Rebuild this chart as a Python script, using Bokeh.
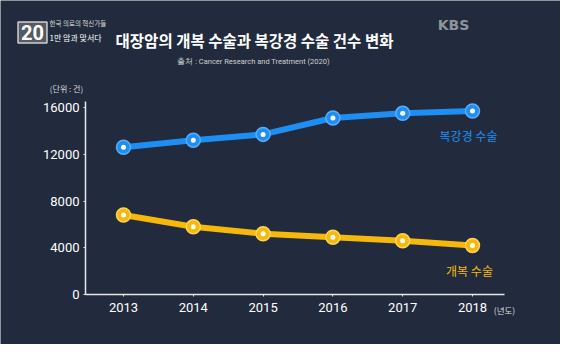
from bokeh.plotting import figure
from bokeh.models import Label, Range1d, FixedTicker
from bokeh.embed import file_html
from bokeh.resources import INLINE

years = [2013, 2014, 2015, 2016, 2017, 2018]
laparoscopic = [12600, 13200, 13700, 15100, 15500, 15700]
open_surgery = [6800, 5800, 5200, 4900, 4600, 4200]
y_ticks = [0, 4000, 8000, 12000, 16000]

BG = "#212b3d"
BLUE = "#1f8ef3"
YELLOW = "#f6b80a"
FONT = "Roboto"
KFONT = "Noto Sans CJK KR"

W, H = 560, 344
# frame covers the whole canvas; axes are pinned inside it with fixed_location
X0, X1 = 2011.2378, 2019.2607
Y0, Y1 = -4278, 25155
AXIS_X = 2012.4556

p = figure(width=W, height=H, output_backend="svg", toolbar_location=None,
           x_range=Range1d(X0, X1), y_range=Range1d(Y0, Y1),
           min_border=0, min_border_left=0, min_border_right=0,
           min_border_top=0, min_border_bottom=0)
p.background_fill_color = BG
p.border_fill_color = BG
p.outline_line_color = None
p.grid.visible = False

for ax in (p.xaxis[0], p.yaxis[0]):
    ax.axis_line_color = "#e8e8e8"
    ax.axis_line_width = 1.5
    ax.major_tick_line_color = "#e8e8e8"
    ax.major_tick_in = 0
    ax.major_tick_out = 2
    ax.minor_tick_line_color = None
    ax.major_label_text_color = "white"
    ax.major_label_text_font = FONT
    ax.major_label_text_font_size = "13px"

p.xaxis.ticker = FixedTicker(ticks=years)
p.yaxis.ticker = FixedTicker(ticks=y_ticks)
p.xaxis.fixed_location = 0
p.yaxis.fixed_location = AXIS_X
p.xaxis.bounds = (AXIS_X, 2018.46)
p.yaxis.bounds = (0, 16500)
p.xaxis.major_label_standoff = 6
p.yaxis.major_label_standoff = 4

p.line(years, laparoscopic, line_color=BLUE, line_width=6)
p.scatter(years, laparoscopic, size=14, fill_color=BLUE, line_color="#5aaef8", line_width=1.5)
p.scatter(years, laparoscopic, size=5, fill_color="white", line_color=None)

p.line(years, open_surgery, line_color=YELLOW, line_width=6)
p.scatter(years, open_surgery, size=14, fill_color=YELLOW, line_color="#ffd45a", line_width=1.5)
p.scatter(years, open_surgery, size=5, fill_color="white", line_color=None)

def lab(text, x, y, size, color, font=KFONT, style="normal", align="center", base="middle", **kw):
    # x, y in page pixels (8px page margin); screen units measured from canvas bottom-left
    p.add_layout(Label(x=x - 8, y=H - (y - 8), x_units="screen", y_units="screen", text=text,
                       text_color=color, text_font=font, text_font_size=size,
                       text_font_style=style, text_align=align, text_baseline=base, **kw))

lab("대장암의 개복 수술과 복강경 수술 건수 변화", 262, 47, "15.5px", "white", style="bold")
lab("출처 : Cancer Research and Treatment (2020)", 261, 69, "7.5px", "#d0d0d0", font=FONT)
lab("KBS", 461, 32, "14px", "#8f949c", font="DejaVu Sans", style="bold")
lab("20", 40, 40, "20px", "white", font=FONT, style="bold",
    background_fill_color="#555a63", border_line_color="#cfcfcf", border_line_width=1.5,
    padding=3)
lab("한국 의료의 혁신가들", 57, 30, "6.5px", "#dddddd", align="left")
lab("1만 암과 맞서다", 57, 45, "8px", "white", align="left")
lab("(단위 : 건)", 74, 96, "8px", "#dddddd")
lab("(년도)", 512, 317, "8.5px", "#dddddd")
lab("복강경 수술", 476, 143, "12px", BLUE)
lab("개복 수술", 477, 278, "12px", YELLOW)

open("out.html", "w").write(file_html(p, INLINE))
